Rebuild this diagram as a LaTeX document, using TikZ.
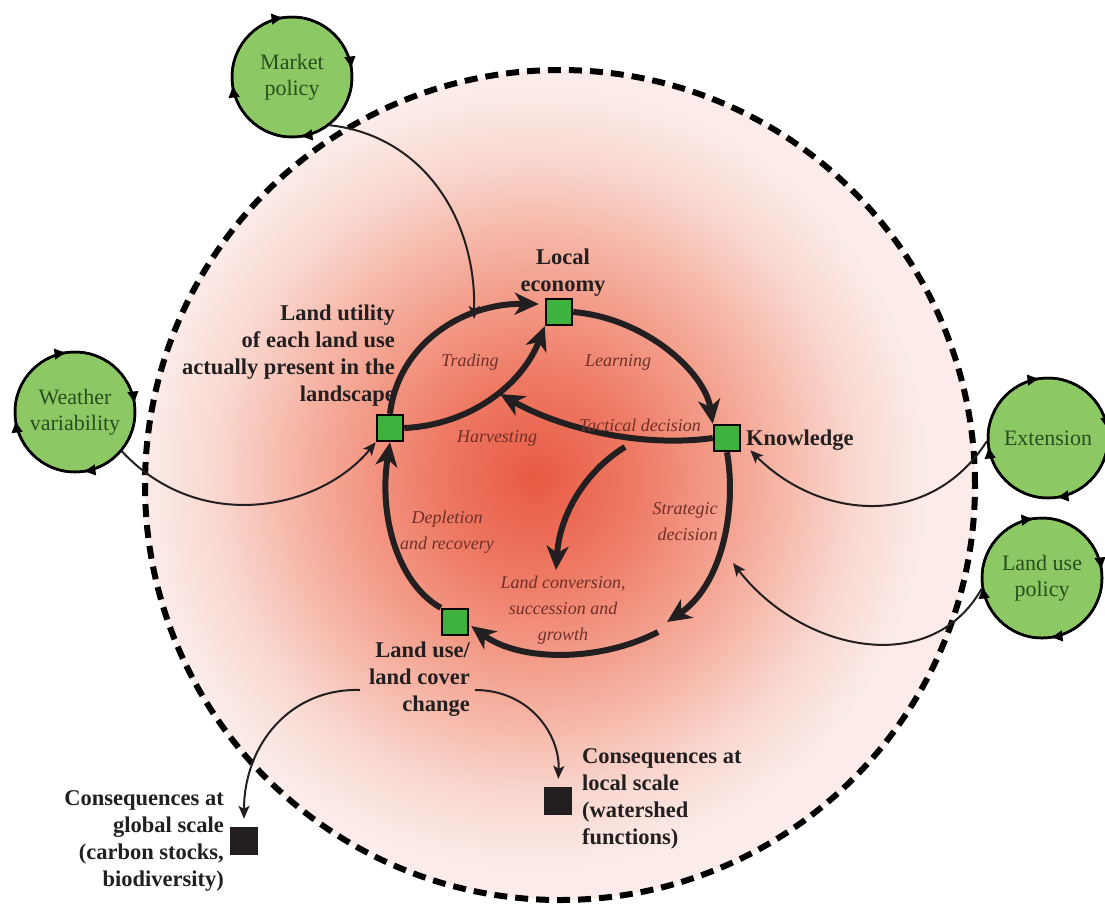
\documentclass[tikz,border=0pt]{standalone}
\usepackage{fontspec}
\setmainfont{Liberation Serif}
\usetikzlibrary{arrows.meta,decorations.markings,calc}
\definecolor{gA}{RGB}{232,90,68}
\definecolor{gB}{RGB}{238,122,100}
\definecolor{gC}{RGB}{245,172,155}
\definecolor{gD}{RGB}{249,216,208}
\definecolor{gE}{RGB}{251,236,233}
\definecolor{cgreen}{RGB}{140,201,100}
\definecolor{tgreen}{RGB}{40,78,30}
\definecolor{sqgreen}{RGB}{62,178,62}
\definecolor{txt}{RGB}{35,31,32}
\definecolor{ital}{RGB}{112,48,42}
\pgfdeclareradialshading{glow}{\pgfpoint{0bp}{0bp}}{color(0bp)=(gA); color(12.5bp)=(gB); color(27.5bp)=(gC); color(40bp)=(gD); color(49bp)=(gE); color(50bp)=(gE)}
\begin{document}
\begin{tikzpicture}[x=1pt,y=-1pt,
  outerc/.style={circle, minimum size=120pt, inner sep=0pt, fill=cgreen, draw=black, line width=2.5pt,
    text=tgreen, align=center, font=\fontsize{22}{26}\selectfont},
  rimarrows/.style={draw=black, line width=2.5pt, postaction={decorate},
    decoration={markings,
      mark=at position 0.02 with {\arrowreversed{Latex[length=13pt,width=12pt]}},
      mark=at position 0.27 with {\arrowreversed{Latex[length=13pt,width=12pt]}},
      mark=at position 0.52 with {\arrowreversed{Latex[length=13pt,width=12pt]}},
      mark=at position 0.77 with {\arrowreversed{Latex[length=13pt,width=12pt]}}}},
  gsq/.style={draw=black, line width=2.5pt, fill=sqgreen, minimum size=26pt, inner sep=0pt},
  bsq/.style={fill=txt, minimum size=28pt, inner sep=0pt},
  blbl/.style={text=txt, align=center, inner sep=0pt, font=\fontsize{22.5}{27}\selectfont\bfseries},
  ilbl/.style={text=ital, align=center, inner sep=0pt, font=\fontsize{18}{26}\selectfont\itshape},
  flow/.style={line width=6pt, draw=txt, -{Stealth[length=24pt,width=22pt,inset=7pt]}},
  link/.style={line width=2pt, draw=txt, -{Stealth[length=13pt,width=11pt,inset=3pt]}}]
\useasboundingbox (0,0) rectangle (1105,906);
\fill[white] (0,0) rectangle (1105,906);
% big circle with glow
\coordinate (C0) at (560,485);
\fill[gE] (C0) circle[radius=415pt];
\begin{scope}
  \clip (C0) circle[radius=415pt];
  \node[inner sep=0pt, outer sep=0pt] (glowbox) at (535,478) {\scalebox{8}{\pgfuseshading{glow}}};
\end{scope}
\draw[line width=6pt, dash pattern=on 13pt off 8pt] (C0) circle[radius=415pt];

% outer drivers
\node[outerc] (MP) at (292,77) {Market\\policy};
\draw[rimarrows] (MP.center) circle[radius=60pt];
\node[outerc] (WV) at (75,412) {Weather\\variability};
\draw[rimarrows] (WV.center) circle[radius=60pt];
\node[outerc] (EX) at (1048,438) {Extension};
\draw[rimarrows] (EX.center) circle[radius=60pt];
\node[outerc] (LP) at (1042,578) {Land use\\policy};
\draw[rimarrows] (LP.center) circle[radius=60pt];

% inner squares
\node[gsq] (LE) at (559,312) {};
\node[gsq] (KN) at (727,438) {};
\node[gsq] (LU) at (390,428) {};
\node[gsq] (LC) at (455,622) {};
\node[bsq] (GS) at (244,841) {};
\node[bsq] (LS) at (558,801) {};

% free ends
\coordinate (tacE) at (500,394);
\coordinate (br) at (625,447);
\coordinate (lconE) at (556,570);
\coordinate (strE) at (667,622);
\coordinate (bs) at (658,632);
\coordinate (mpE) at (474,319);
\coordinate (lpE) at (733,563);
\coordinate (lcA) at (360,690);
\coordinate (lcB) at (475,690);

% main cycle
\draw[flow] (LU.north) .. controls (398,345) and (462,303) .. ($(LE.west)+(-6,-8)$);
\draw[flow] (LU.east) .. controls (470,425) and (522,385) .. (LE.south west);
\draw[flow] (LE.east) .. controls (645,318) and (705,372) .. (KN.north west);
\draw[flow] (KN.west) .. controls (640,448) and (560,428) .. (tacE);
\draw[flow] (br) .. controls (590,468) and (560,510) .. (lconE);
\draw[flow] (KN.south) .. controls (737,510) and (722,585) .. (strE);
\draw[flow] (bs) .. controls (600,662) and (520,662) .. ($(LC.east)+(2,4)$);
\draw[flow] (LC.north west) .. controls (400,585) and (378,520) .. (LU.south);

% external links
\draw[link] (MP.-52) .. controls (420,135) and (476,215) .. (mpE);
\draw[link] (WV.-40) .. controls (200,535) and (320,510) .. (LU.south west);
\draw[link] (EX.183) .. controls (930,530) and (820,520) .. ($(KN.south east)+(9,-2)$);
\draw[link] (LP.190) .. controls (930,680) and (800,650) .. (lpE);
\draw[link, shorten >=8pt] (lcA) .. controls (290,688) and (244,745) .. (GS.north);
\draw[link, shorten >=8pt] (lcB) .. controls (530,690) and (560,735) .. (LS.north);

% bold labels
\node[blbl, align=right, anchor=east] (tLU) at (395,356) {Land utility\\of each land use\\actually present in the\\landscape};
\node[blbl] (tLE) at (563,273) {Local\\economy};
\node[blbl, anchor=west] (tKN) at (746,440) {Knowledge};
\node[blbl, align=right, anchor=east] (tLC) at (470,679) {Land use/\\land cover\\change};
\node[blbl, align=right, anchor=east] (tGS) at (224,841) {Consequences at\\global scale\\(carbon stocks,\\biodiversity)};
\node[blbl, align=left, anchor=west] (tLS) at (582,799) {Consequences at\\local scale\\(watershed\\functions)};

% italic labels
\node[ilbl] (iTr) at (470,362) {Trading};
\node[ilbl] (iLe) at (618,362) {Learning};
\node[ilbl] (iHa) at (497,438) {Harvesting};
\node[ilbl] (iTa) at (640,425) {Tactical decision};
\node[ilbl] (iDe) at (447,532) {Depletion\\and recovery};
\node[ilbl, align=right] (iSt) at (685,522) {Strategic\\decision};
\node[ilbl] (iLc) at (563,610) {Land conversion,\\succession and\\growth};
\end{tikzpicture}
\end{document}
